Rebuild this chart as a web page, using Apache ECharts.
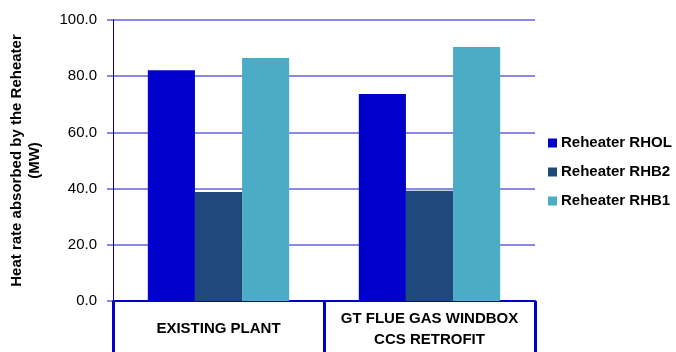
<!DOCTYPE html>
<html>
<head>
<meta charset="utf-8">
<script src="https://cdn.jsdelivr.net/npm/echarts@6/dist/echarts.min.js"></script>
<style>
  html, body { margin: 0; padding: 0; background: #fff; }
  #chart { width: 676px; height: 352px; }
</style>
</head>
<body>
<div id="chart"></div>
<script>
// Categories along the x axis
const categories = ['EXISTING PLANT', 'GT FLUE GAS WINDBOX\nCCS RETROFIT'];

// Heat absorbed by each reheater section (MW)
const rhol = [82.1, 73.7];
const rhb2 = [38.8, 39.2];
const rhb1 = [86.5, 90.4];

const seriesNames = ['Reheater RHOL', 'Reheater RHB2', 'Reheater RHB1'];
const seriesColors = ['#0000CC', '#1F497D', '#4BACC6'];

const axisBlue = '#0000CC';
const gridBlue = '#6262dc';
const fontFamily = '"Liberation Sans", Arial, sans-serif';

const chart = echarts.init(document.getElementById('chart'));

const makeBar = (name, data, color) => ({
  name: name,
  type: 'bar',
  data: data,
  barGap: '0%',
  barCategoryGap: '33%',
  itemStyle: { color: color },
  emphasis: { disabled: true }
});

chart.setOption({
  animation: false,
  backgroundColor: '#ffffff',
  textStyle: { fontFamily: fontFamily },
  grid: { left: 113, right: 141, top: 20, bottom: 51, outerBoundsMode: 'none', containLabel: false },
  legend: {
    orient: 'vertical',
    left: 548,
    top: 135,
    padding: 0,
    itemWidth: 9,
    itemHeight: 9,
    itemGap: 13,
    icon: 'rect',
    textStyle: { fontFamily: fontFamily, fontSize: 15, fontWeight: 'bold', color: '#000', lineHeight: 16, padding: [0, 0, 0, -1] },
    data: seriesNames
  },
  xAxis: {
    type: 'category',
    data: categories,
    boundaryGap: true,
    axisLine: { show: true, lineStyle: { color: axisBlue, width: 2 } },
    // category boundary ticks run down to form the label boxes
    axisTick: { show: true, interval: 0, length: 60, lineStyle: { color: axisBlue, width: 3 } },
    axisLabel: {
      interval: 0,
      hideOverlap: false,
      margin: 28,
      fontFamily: fontFamily,
      fontSize: 15,
      fontWeight: 'bold',
      color: '#000',
      lineHeight: 21,
      align: 'center',
      verticalAlign: 'middle'
    }
  },
  yAxis: {
    type: 'value',
    min: 0,
    max: 100,
    interval: 20,
    name: 'Heat rate absorbed by the Reheater\n(MW)',
    nameLocation: 'middle',
    nameGap: 69,
    nameRotate: 90,
    nameTextStyle: { fontFamily: fontFamily, fontSize: 15, fontWeight: 'bold', color: '#000', lineHeight: 18 },
    axisLine: { show: true, lineStyle: { color: '#000090', width: 1 } },
    axisTick: { show: true, inside: false, length: 6, lineStyle: { color: gridBlue, width: 1.5 } },
    axisLabel: {
      margin: 16,
      fontFamily: fontFamily,
      fontSize: 15,
      color: '#000',
      formatter: v => v.toFixed(1)
    },
    splitLine: { show: true, lineStyle: { color: gridBlue, width: 1.5 } }
  },
  series: [
    makeBar(seriesNames[0], rhol, seriesColors[0]),
    makeBar(seriesNames[1], rhb2, seriesColors[1]),
    makeBar(seriesNames[2], rhb1, seriesColors[2])
  ]
});
</script>
</body>
</html>
